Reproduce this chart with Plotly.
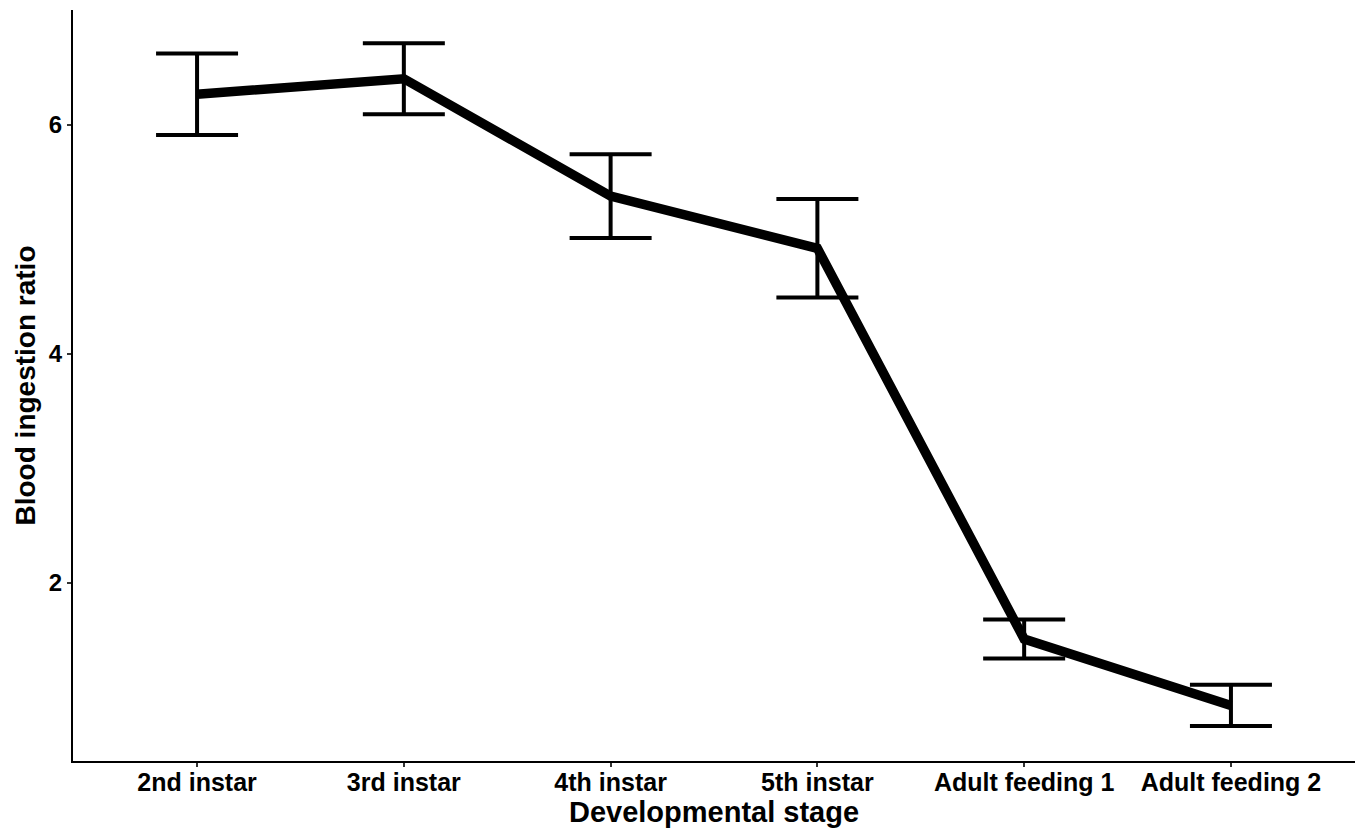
import plotly.graph_objects as go

# Blood ingestion ratio by developmental stage (mean ± error)
stages = ["2nd instar", "3rd instar", "4th instar", "5th instar",
          "Adult feeding 1", "Adult feeding 2"]
ratio_mean = [6.265, 6.40, 5.375, 4.92, 1.51, 0.93]
ratio_err = [0.355, 0.31, 0.365, 0.43, 0.17, 0.18]

y_ticks = [2, 4, 6]

font_family = "Liberation Sans, Arial, Helvetica, sans-serif"

fig = go.Figure()
fig.add_trace(go.Scatter(
    x=stages,
    y=ratio_mean,
    mode="lines",
    line=dict(color="black", width=9.5),
    error_y=dict(
        type="data",
        array=ratio_err,
        symmetric=True,
        color="black",
        thickness=4,
        width=41,
    ),
    showlegend=False,
))

fig.update_layout(
    width=1359,
    height=828,
    margin=dict(l=73, r=4, t=10, b=67),
    paper_bgcolor="white",
    plot_bgcolor="white",
    font=dict(family=font_family, color="black"),
    xaxis=dict(
        type="category",
        range=[-0.6, 5.6],
        showline=True,
        linecolor="black",
        linewidth=2,
        ticks="outside",
        ticklen=4,
        tickwidth=2,
        tickcolor="#333333",
        ticklabelstandoff=-6,
        showgrid=False,
        zeroline=False,
        tickfont=dict(size=25, family=font_family, color="black", weight="bold"),
        title=dict(text="<b>Developmental stage</b>",
                   font=dict(size=29, family=font_family, color="black"),
                   standoff=2),
    ),
    yaxis=dict(
        range=[0.445, 7.0],
        tickvals=y_ticks,
        ticktext=[str(v) for v in y_ticks],
        showline=True,
        linecolor="black",
        linewidth=2,
        ticks="outside",
        ticklen=4,
        tickwidth=2,
        tickcolor="#333333",
        showgrid=False,
        zeroline=False,
        tickfont=dict(size=24, family=font_family, color="black", weight="bold"),
        title=dict(text="<b>Blood ingestion ratio</b>",
                   font=dict(size=28, family=font_family, color="black"),
                   standoff=5),
    ),
)

fig.write_html("out.html")
